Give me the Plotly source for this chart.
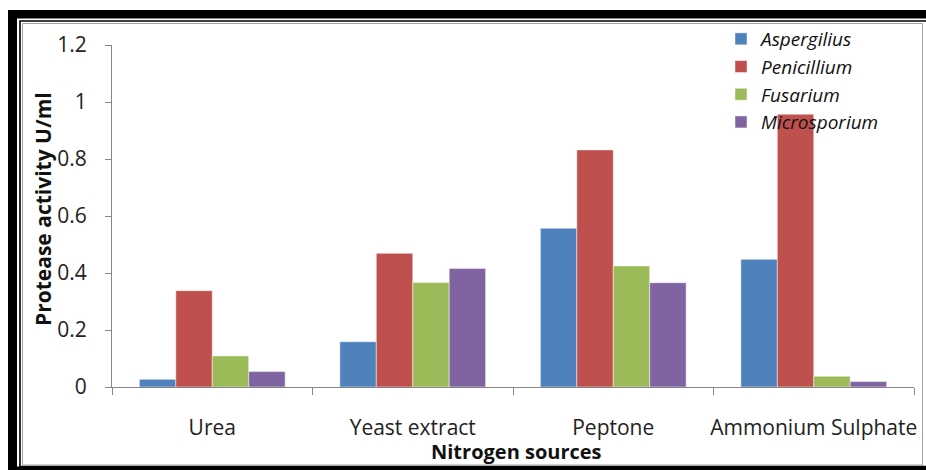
import plotly.graph_objects as go

categories = ["Urea", "Yeast extract", "Peptone", "Ammonium Sulphate"]
series_names = ["Aspergilius", "Penicillium", "Fusarium", "Microsporium"]
aspergilius = [0.027, 0.159, 0.557, 0.448]
penicillium = [0.338, 0.469, 0.832, 0.957]
fusarium = [0.109, 0.367, 0.425, 0.0375]
microsporium = [0.054, 0.416, 0.366, 0.019]
y_ticks = [0, 0.2, 0.4, 0.6, 0.8, 1, 1.2]

colors = ["#4F81BD", "#C0504D", "#9BBB59", "#8064A2"]
W, H = 926, 470
L, R, T, B = 112, 12, 45, 83
PW, PH = W - L - R, H - T - B

def px(x):
    return (x - L) / PW

def py(y):
    return (H - B - y) / PH

fig = go.Figure()
for name, vals, col in zip(series_names, [aspergilius, penicillium, fusarium, microsporium], colors):
    fig.add_trace(go.Bar(
        x=categories, y=vals, name=name,
        marker=dict(color=col, line=dict(color="rgba(255,255,255,0.6)", width=0.8)),
    ))

font_family = "Open Sans, Lato, sans-serif"

shapes = [
    dict(type="rect", xref="paper", yref="paper", x0=px(8), x1=px(960), y0=py(10), y1=py(490),
         fillcolor="black", line=dict(width=0), layer="below"),
    dict(type="rect", xref="paper", yref="paper", x0=px(17), x1=px(950), y0=py(18.5), y1=py(466.5),
         fillcolor="white", line=dict(width=0), layer="below"),
    dict(type="rect", xref="paper", yref="paper", x0=px(20), x1=px(950), y0=py(21), y1=py(466.5),
         fillcolor="rgba(0,0,0,0)", line=dict(color="black", width=1.6), layer="below"),
    dict(type="rect", xref="paper", yref="paper", x0=px(22.5), x1=px(922.5), y0=py(23.5), y1=py(465),
         fillcolor="rgba(0,0,0,0)", line=dict(color="#A0A0A0", width=1), layer="below"),
]

fig.update_layout(
    width=W, height=H,
    margin=dict(l=L, r=R, t=T, b=B, autoexpand=False),
    paper_bgcolor="white", plot_bgcolor="rgba(0,0,0,0)",
    barmode="group", bargap=0.273, bargroupgap=0,
    font=dict(family=font_family, size=17, color="#222222"),
    showlegend=True,
    legend=dict(
        x=px(721), y=py(20), xanchor="left", yanchor="top",
        bgcolor="rgba(0,0,0,0)", borderwidth=0,
        font=dict(family=font_family, size=19, color="#111111", style="italic"),
        itemwidth=30, tracegroupgap=0,
    ),
    shapes=shapes,
    annotations=[
        dict(text="<b>Protease activity U/ml</b>", xref="paper", yref="paper",
             x=px(43), y=py(209), xanchor="center", yanchor="middle",
             textangle=-90, showarrow=False,
             font=dict(family=font_family, size=21, color="#111111")),
        dict(text="<b>Nitrogen sources</b>", xref="paper", yref="paper",
             x=px(516), y=py(451), xanchor="center", yanchor="middle", showarrow=False,
             font=dict(family=font_family, size=20, color="#111111")),
    ],
)

fig.update_xaxes(
    showline=True, linecolor="#868686", linewidth=1,
    ticks="outside", tickson="boundaries", ticklen=7, tickcolor="#868686",
    showgrid=False, zeroline=False, ticklabelstandoff=22, tickangle=0, automargin=False,
    tickfont=dict(family=font_family, size=21, color="#222222"),
)
fig.update_yaxes(
    range=[0, 1.2], tickvals=y_ticks, ticktext=[str(v) for v in y_ticks],
    showline=True, linecolor="#868686", linewidth=1,
    ticks="outside", ticklen=6, tickcolor="#868686",
    showgrid=False, zeroline=False, ticklabelstandoff=14, automargin=False,
    tickfont=dict(family=font_family, size=21, color="#222222"),
)

fig.write_html("out.html", config={"displayModeBar": False},
               post_script="document.body.style.margin='0';")
